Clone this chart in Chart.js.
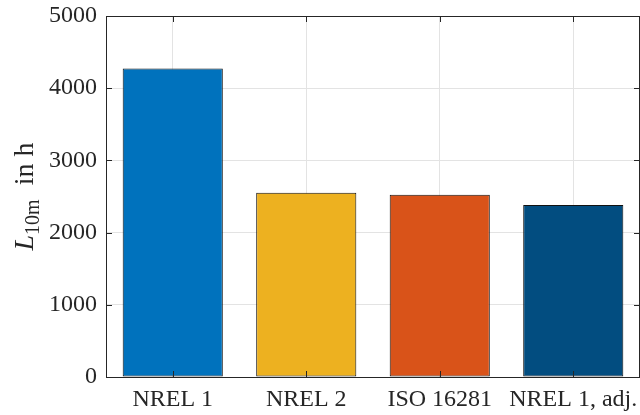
<!DOCTYPE html>
<html>
<head>
<meta charset="utf-8">
<script src="https://cdn.jsdelivr.net/npm/chart.js@4"></script>
<style>
  html, body { margin: 0; padding: 0; background: #fff; }
  #wrap { width: 640px; height: 415px; }
</style>
</head>
<body>
<div id="wrap"><canvas id="lifeBars" width="640" height="415"></canvas></div>
<script>
const categories = ['NREL 1', 'NREL 2', 'ISO 16281', 'NREL 1, adj.'];
const lifeHours = [4272, 2552, 2524, 2381];
const yTicks = [0, 1000, 2000, 3000, 4000, 5000];
const barColors = ['#0072BD', '#EDB120', '#D95319', '#024D80'];

const axisColor = '#262626';
const serif = '"Liberation Serif", "Times New Roman", serif';

// box round the plot with inward tick marks, drawn over the bars like matlab does
const frameTicks = {
  id: 'frameTicks',
  afterDatasetsDraw(chart) {
    const { ctx, chartArea: a, scales } = chart;
    const len = 6;
    ctx.save();
    ctx.strokeStyle = axisColor;
    ctx.lineWidth = 1;
    ctx.beginPath();
    scales.x.ticks.forEach((t, i) => {
      const x = Math.round(scales.x.getPixelForTick(i)) + 0.5;
      ctx.moveTo(x, a.bottom); ctx.lineTo(x, a.bottom - len);
      ctx.moveTo(x, a.top); ctx.lineTo(x, a.top + len);
    });
    scales.y.ticks.forEach((t, i) => {
      const y = Math.round(scales.y.getPixelForTick(i)) + 0.5;
      ctx.moveTo(a.left, y); ctx.lineTo(a.left + len, y);
      ctx.moveTo(a.right, y); ctx.lineTo(a.right - len, y);
    });
    ctx.stroke();
    ctx.strokeRect(a.left + 0.5, a.top + 0.5, a.right - a.left - 1, a.bottom - a.top);
    ctx.restore();
  }
};

// y label with italic L and a subscript, chart.js titles can't mix fonts
const yLabel = {
  id: 'yLabel',
  afterDraw(chart) {
    const { ctx, chartArea: a } = chart;
    const parts = [
      { t: 'L', f: 'italic 28px ' + serif, dy: 0 },
      { t: '10m', f: '20px ' + serif, dy: 6 },
      { t: '  in h', f: '28px ' + serif, dy: 0 }
    ];
    ctx.save();
    let w = 0;
    parts.forEach(p => { ctx.font = p.f; p.w = ctx.measureText(p.t).width; w += p.w; });
    ctx.translate(33, (a.top + a.bottom) / 2);
    ctx.rotate(-Math.PI / 2);
    ctx.fillStyle = axisColor;
    ctx.textBaseline = 'alphabetic';
    let x = -w / 2;
    parts.forEach(p => {
      ctx.font = p.f;
      ctx.fillText(p.t, x, p.dy);
      x += p.w;
    });
    ctx.restore();
  }
};

new Chart(document.getElementById('lifeBars'), {
  type: 'bar',
  data: {
    labels: categories,
    datasets: [{
      data: lifeHours,
      backgroundColor: barColors,
      borderColor: '#111',
      borderWidth: 1,
      borderSkipped: false,
      barPercentage: 0.75,
      categoryPercentage: 1
    }]
  },
  options: {
    responsive: false,
    animation: false,
    layout: { padding: { top: 16, right: 0, left: 0, bottom: 0 } },
    plugins: { legend: { display: false }, tooltip: { enabled: false } },
    scales: {
      x: {
        grid: { offset: false, color: '#e3e3e3', drawTicks: false },
        border: { display: false },
        ticks: { color: axisColor, font: { family: serif, size: 24 }, padding: 8, maxRotation: 0 },
        afterFit: s => { s.height = 38; s.paddingLeft = 0; s.paddingRight = 0; }
      },
      y: {
        min: 0,
        max: 5000,
        grid: { color: '#e3e3e3', drawTicks: false },
        border: { display: false },
        afterBuildTicks: s => { s.ticks = yTicks.map(v => ({ value: v })); },
        ticks: { color: axisColor, font: { family: serif, size: 24 }, padding: 9, callback: v => String(v) },
        afterFit: s => { s.width = 106; s.paddingTop = 0; s.paddingBottom = 0; }
      }
    }
  },
  plugins: [frameTicks, yLabel]
});
</script>
</body>
</html>
